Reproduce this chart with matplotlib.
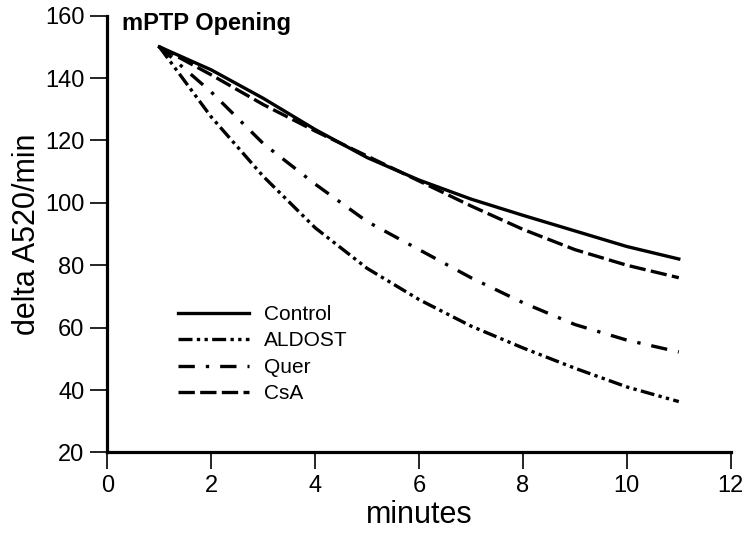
import numpy as np
import matplotlib.pyplot as plt

plt.rcParams['font.family'] = ['Liberation Sans', 'DejaVu Sans']

minutes = [1, 2, 3, 4, 5, 6, 7, 8, 9, 10, 11]
control = [150, 142.6, 133.5, 123.5, 114.5, 107.3, 101.2, 96, 91, 86, 82]
aldost = [150, 127.5, 108.5, 92, 79, 69, 60.5, 53.5, 47, 41, 36.3]
quer = [150, 135.5, 119, 106, 94, 85, 76, 68, 61, 56, 52.2]
csa = [150, 141, 131.5, 123, 115, 107, 99, 91.5, 85, 80, 76]

series = [('Control', control, '-'),
          ('ALDOST', aldost, (0, (4.2, 1.3, 1, 1.3, 1, 1.3))),
          ('Quer', quer, (0, (4.9, 3.3, 1, 3.3))),
          ('CsA', csa, (0, (4.9, 1.6)))]

fig = plt.figure(figsize=(7.51, 5.38), dpi=100)
ax = fig.add_axes([0.143, 0.159, 0.830, 0.812])

for name, vals, ls in series:
    ax.plot(minutes, vals, color='black', lw=2.4, linestyle=ls, label=name)

ax.set_xlim(0, 12)
ax.set_ylim(20, 160)
ax.set_xticks(np.arange(0, 13, 2))
ax.set_yticks(np.arange(20, 161, 20))
for side in ['top', 'right']:
    ax.spines[side].set_visible(False)
for side in ['left', 'bottom']:
    ax.spines[side].set_linewidth(2.3)
ax.tick_params(direction='out', length=12.5, width=1.2, labelsize=17, pad=4)
ax.set_xlabel('minutes', fontsize=22, labelpad=2)
ax.set_ylabel('delta A520/min', fontsize=22, labelpad=2)

fig.text(0.163, 0.945, 'mPTP Opening', fontsize=17, fontweight='bold', ha='left', va='baseline')

ax.legend(loc='upper left', bbox_to_anchor=(0.113, 0.338), frameon=False,
          fontsize=15, handlelength=3.4, handletextpad=0.75, labelspacing=0.36,
          borderpad=0, borderaxespad=0)

fig.savefig('out.png', dpi=100)
